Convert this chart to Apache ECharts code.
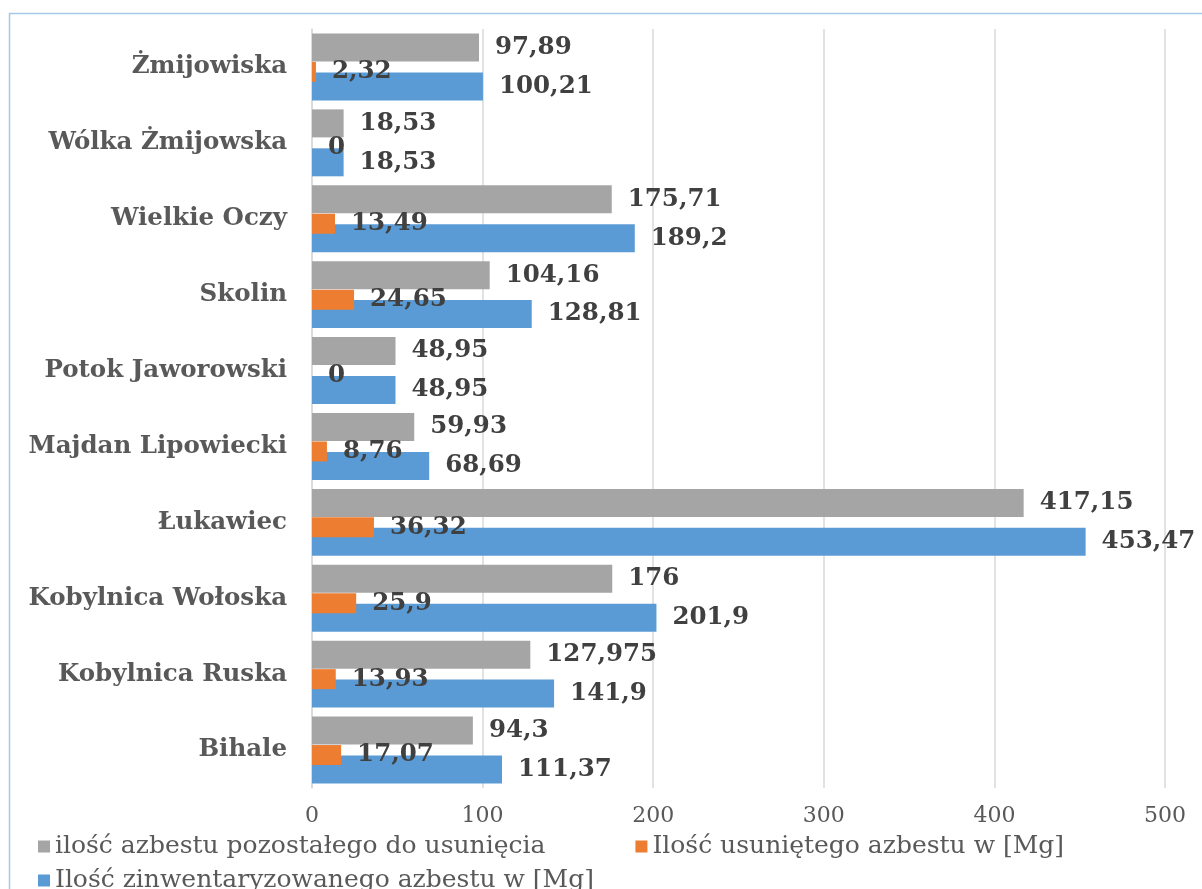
<!DOCTYPE html>
<html><head><meta charset="utf-8">
<script src="https://cdn.jsdelivr.net/npm/echarts@6/dist/echarts.min.js"></script>
<style>html,body{margin:0;padding:0;background:#fff}#c{width:1202px;height:889px}</style>
</head><body><div id="c"></div>
<script>
const categories = ['Żmijowiska','Wólka Żmijowska','Wielkie Oczy','Skolin','Potok Jaworowski','Majdan Lipowiecki','Łukawiec','Kobylnica Wołoska','Kobylnica Ruska','Bihale'];
const remaining = [97.89, 18.53, 175.71, 104.16, 48.95, 59.93, 417.15, 176, 127.975, 94.3];
const removed = [2.32, 0, 13.49, 24.65, 0, 8.76, 36.32, 25.9, 13.93, 17.07];
const inventoried = [100.21, 18.53, 189.2, 128.81, 48.95, 68.69, 453.47, 201.9, 141.9, 111.37];
const xTicks = [0, 100, 200, 300, 400, 500];
const names = ['ilość azbestu pozostałego do usunięcia','Ilość usuniętego azbestu w [Mg]','Ilość zinwentaryzowanego azbestu w [Mg]'];

const FONT = 'DejaVu Serif';
const fmt = p => String(p.value).replace('.', ',');
const lbl = {show:true, position:'right', distance:16, formatter:fmt, fontFamily:FONT, fontWeight:'bold', fontSize:24.5, color:'#404040'};

const chart = echarts.init(document.getElementById('c'));
chart.setOption({
  animation:false,
  graphic:[{type:'rect', shape:{x:9.5,y:13.5,width:1250,height:950}, style:{fill:'none', stroke:'#a7c7e7', lineWidth:1.5}, silent:true, z:-10}],
  grid:[
    {left:312, right:37, top:29, bottom:101},
    {left:312, right:37, top:34, bottom:96}
  ],
  xAxis:[
    {gridIndex:0, type:'value', min:xTicks[0], max:xTicks[xTicks.length-1], interval:100,
     axisLine:{show:false}, axisTick:{show:false},
     splitLine:{lineStyle:{color:'#d9d9d9', width:1.5}},
     axisLabel:{margin:17, fontFamily:FONT, fontSize:22, color:'#595959'}},
    {gridIndex:1, type:'value', min:xTicks[0], max:xTicks[xTicks.length-1], interval:100, show:false}
  ],
  yAxis:[
    {gridIndex:0, type:'category', data:categories, inverse:true,
     axisLine:{lineStyle:{color:'#d9d9d9', width:1.5}}, axisTick:{show:false},
     axisLabel:{margin:25, fontFamily:FONT, fontWeight:'bold', fontSize:24.5, color:'#595959'}},
    {gridIndex:1, type:'category', data:categories, inverse:true, show:false}
  ],
  legend:[
    {data:[names[0], names[1]], left:33, top:829, itemGap:90, itemWidth:12, itemHeight:12, icon:'rect',
     textStyle:{fontFamily:FONT, fontSize:25, color:'#595959'}},
    {data:[names[2]], left:33, top:863, itemWidth:12, itemHeight:12, icon:'rect',
     textStyle:{fontFamily:FONT, fontSize:25, color:'#595959'}}
  ],
  series:[
    {name:names[0], type:'bar', xAxisIndex:0, yAxisIndex:0, data:remaining, barWidth:28, barGap:'39%', itemStyle:{color:'#a5a5a5'}, label:lbl},
    {name:names[2], type:'bar', xAxisIndex:0, yAxisIndex:0, data:inventoried, barWidth:28, barGap:'39%', itemStyle:{color:'#5b9bd5'}, label:lbl},
    {name:names[1], type:'bar', xAxisIndex:1, yAxisIndex:1, data:removed, barWidth:20, itemStyle:{color:'#ed7d31'}, label:lbl}
  ]
});
</script></body></html>
